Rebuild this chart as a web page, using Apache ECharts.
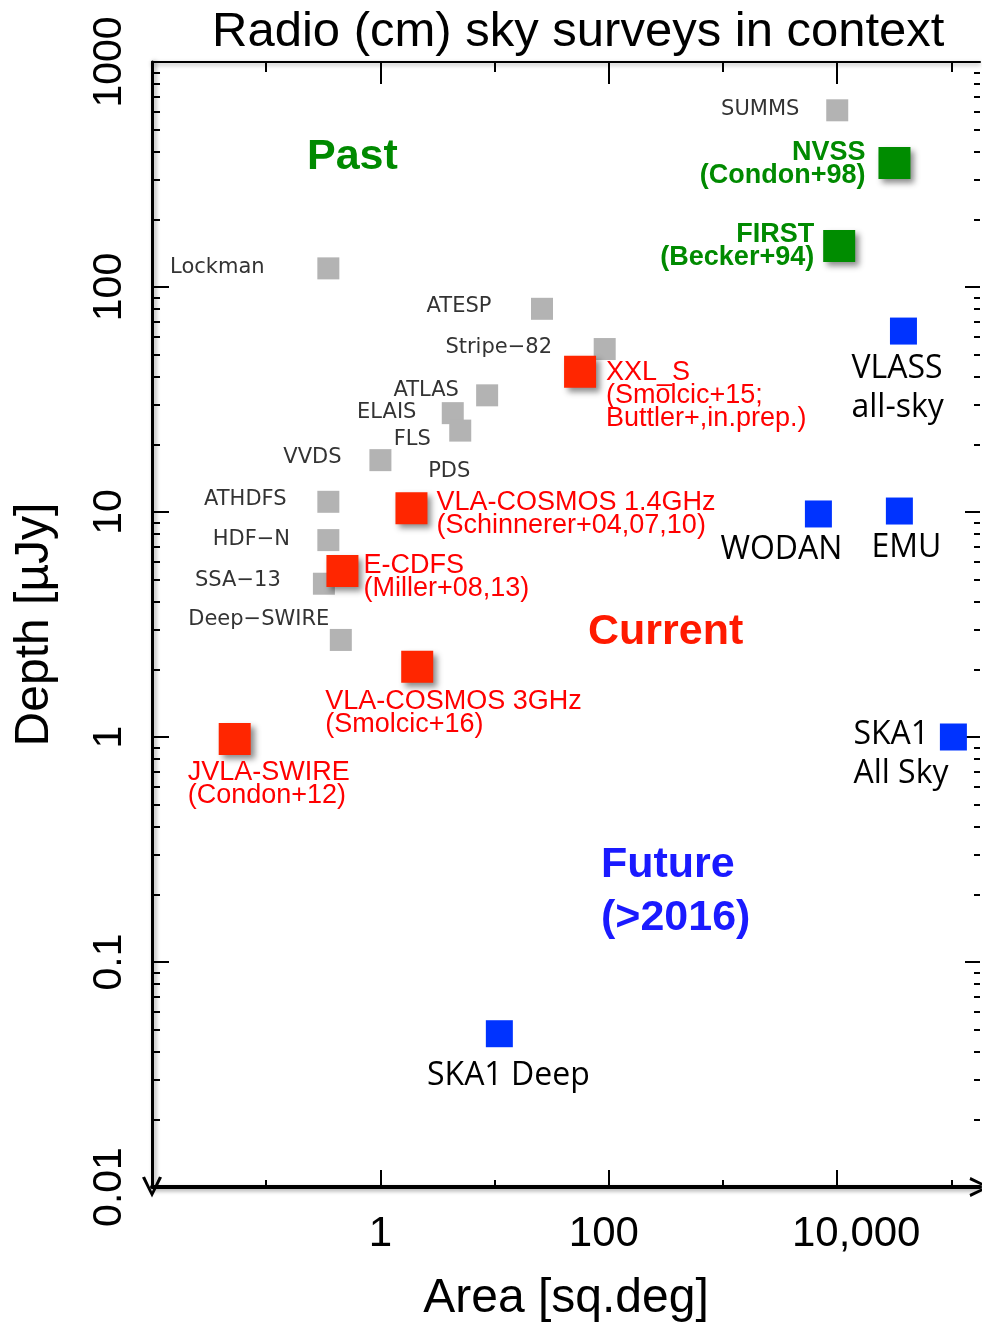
<!DOCTYPE html>
<html>
<head>
<meta charset="utf-8">
<script src="https://cdn.jsdelivr.net/npm/echarts@6/dist/echarts.min.js"></script>
<style>
  html, body { margin: 0; padding: 0; background: #fff; }
  #chart { width: 982px; height: 1322px; }
</style>
</head>
<body>
<div id="chart"></div>
<script>
// past surveys (grey squares)
const pastNames = ['SUMMS', 'Lockman', 'ATESP', 'Stripe\u221282', 'ATLAS', 'ELAIS', 'FLS', 'VVDS', 'PDS', 'ATHDFS', 'HDF\u2212N', 'SSA\u221213', 'Deep\u2212SWIRE']
const pastArea = [10000, 0.35, 26, 92, 8.6, 4.3, 5.0, 1.0, 1.9, 0.35, 0.35, 0.32, 0.45]
const pastDepth = [610, 121, 80, 53, 33, 27.5, 23, 17, 10.5, 11.1, 7.5, 4.8, 2.7]

// large past surveys (green)
const bigNames = ['NVSS\n(Condon+98)', 'FIRST\n(Becker+94)']
const bigArea = [31700, 10400]
const bigDepth = [356, 152]

// current surveys (red)
const curNames = ['XXL_S\n(Smolcic+15;\nButtler+,in.prep.)', 'VLA-COSMOS 1.4GHz\n(Schinnerer+04,07,10)', 'E-CDFS\n(Miller+08,13)', 'VLA-COSMOS 3GHz\n(Smolcic+16)', 'JVLA-SWIRE\n(Condon+12)']
const curArea = [56, 1.87, 0.465, 2.1, 0.053]
const curDepth = [42, 10.4, 5.47, 2.05, 0.98]

// future surveys (blue)
const futNames = ['VLASS\nall-sky', 'WODAN', 'EMU', 'SKA1\nAll Sky', 'SKA1 Deep']
const futArea = [38000, 6840, 35000, 104000, 11]
const futDepth = [63.7, 9.8, 10.1, 1.0, 0.048]

// axis ticks
const xTickValues = [1, 100, 10000]
const xTickLabels = ['1', '100', '10,000']
const xDecades = [0.01, 0.1, 1, 10, 100, 1000, 10000, 100000]
const yTickValues = [0.01, 0.1, 1, 10, 100, 1000]
const yTickLabels = ['0.01', '0.1', '1', '10', '100', '1000']
const yMinor = []
yTickValues.slice(0, -1).forEach(d => { for (let m = 2; m <= 9; m++) yMinor.push(+(m * d).toPrecision(3)) })

// label placement (offset from square centre, align, vertical align)
const pastLabelPos = [[-77, -1], [-111, -1], [-83, -2], [-106, -1], [-61, -5], [-66, -1], [-48, 9], [-68, -3], [37, -36], [-83, -2], [-77, -1], [-86, -3], [-82, -20]]
const bigLabelPos = [[-29, -22], [-25, -23]]
const curLabelPos = [[26, -11], [25, -17], [21, -17], [-92, 23], [-47, 22]]
const futLabelPos = [[-52, 18, 'left', 'top'], [-37, 36, 'center', 'middle'], [7, 37, 'center', 'middle'], [-100, -22, 'left', 'top'], [9, 42, 'center', 'middle']]

const XMIN = 0.01, XMAX = 177828, YMIN = 0.01, YMAX = 1000
const FONT = '"Liberation Sans", Arial, sans-serif'
const arrow = 'path://M0,20 L10,0 L20,20 L17,21 L10,6 L3,21 Z'

function pts(names, xs, ys, pos) {
  return names.map((n, i) => ({
    name: n,
    value: [xs[i], ys[i]],
    label: Object.assign({ offset: [pos[i][0], pos[i][1]] }, pos[i][2] ? { align: pos[i][2], verticalAlign: pos[i][3] } : {})
  }))
}

const shadow = { shadowBlur: 6, shadowOffsetX: 4, shadowOffsetY: 4, shadowColor: 'rgba(0,0,0,0.45)' }

function xAx(pos, show, ticks, len, width) {
  return {
    type: 'log', position: pos, min: XMIN, max: XMAX, gridIndex: 0,
    axisLine: { show: show, onZero: false, symbol: pos === 'bottom' ? ['none', arrow] : 'none', symbolSize: [20, 22],
      lineStyle: { color: '#000', width: width, shadowBlur: 4, shadowColor: 'rgba(0,0,0,0.35)', shadowOffsetY: 2 } },
    axisTick: { show: true, inside: true, length: len, customValues: ticks, lineStyle: { color: '#000', width: 2 } },
    axisLabel: { show: false },
    splitLine: { show: false }
  }
}
function yAx(pos, show, ticks, len, width) {
  return {
    type: 'log', position: pos, min: YMIN, max: YMAX, gridIndex: 0,
    axisLine: { show: show, onZero: false, symbol: pos === 'left' ? [arrow, 'none'] : 'none', symbolSize: [20, 22],
      lineStyle: { color: '#000', width: width, shadowBlur: 4, shadowColor: 'rgba(0,0,0,0.35)', shadowOffsetX: 2 } },
    axisTick: { show: true, inside: true, length: len, customValues: ticks, lineStyle: { color: '#000', width: 2 } },
    axisLabel: { show: false },
    splitLine: { show: false }
  }
}

const xMain = xAx('bottom', true, xTickValues, 17, 4)
xMain.axisLabel = {
  show: true, customValues: xTickValues, margin: 26, fontSize: 42, color: '#000', fontFamily: FONT,
  formatter: v => {
    const i = xTickValues.findIndex(t => Math.abs(t - v) / t < 1e-6)
    return i < 0 ? '' : '{l' + i + '|' + xTickLabels[i] + '}'
  },
  rich: {
    l0: { fontSize: 42, fontFamily: FONT, color: '#000', padding: [0, 0, 0, 0] },
    l1: { fontSize: 42, fontFamily: FONT, color: '#000', padding: [0, 10, 0, 0] },
    l2: { fontSize: 42, fontFamily: FONT, color: '#000', padding: [0, 0, 0, 38] }
  }
}
Object.assign(xMain, { name: 'Area [sq.deg]', nameLocation: 'middle', nameGap: 88,
  nameTextStyle: { fontSize: 48, color: '#000', fontFamily: FONT } })

const yMain = yAx('left', true, yTickValues, 17, 3)
yMain.axisLabel = {
  show: true, customValues: yTickValues, margin: 22, rotate: 90, fontSize: 41, color: '#000', fontFamily: FONT,
  formatter: v => yTickLabels[yTickValues.findIndex(t => Math.abs(t - v) / t < 1e-6)] || ''
}
Object.assign(yMain, { name: 'Depth [\u00b5Jy]', nameLocation: 'middle', nameGap: 93, nameRotate: 90,
  nameTextStyle: { fontSize: 48, color: '#000', fontFamily: FONT } })

const chart = echarts.init(document.getElementById('chart'))
chart.setOption({
  animation: false,
  backgroundColor: '#fff',
  title: {
    text: 'Radio (cm) sky surveys in context', left: 207, top: 3,
    textStyle: { fontSize: 49, fontWeight: 'normal', color: '#000', fontFamily: FONT }
  },
  grid: { left: 152, right: 2, top: 62, bottom: 135, containLabel: false, outerBoundsMode: 'none' },
  xAxis: [
    xMain,
    xAx('bottom', false, xDecades, 7, 4),
    xAx('top', true, xTickValues, 22, 2),
    xAx('top', false, xDecades, 10, 2)
  ],
  yAxis: [
    yMain,
    yAx('left', false, yMinor, 8, 3),
    yAx('right', false, yTickValues, 15, 2),
    yAx('right', false, yMinor, 6, 2)
  ],
  graphic: [
    { type: 'text', left: 307, top: 136, style: { text: 'Past', fill: '#008a00', font: 'bold 43px ' + FONT } },
    { type: 'text', left: 588, top: 611, style: { text: 'Current', fill: '#ff1a00', font: 'bold 43px ' + FONT } },
    { type: 'text', left: 601, top: 839, style: { text: 'Future\n(>2016)', fill: '#1a1aff', font: 'bold 43px ' + FONT, lineHeight: 53 } }
  ],
  series: [
    {
      type: 'scatter', xAxisIndex: 0, yAxisIndex: 0, symbol: 'rect', symbolSize: 22,
      itemStyle: { color: '#b3b3b3', opacity: 1 },
      label: { show: true, position: 'inside', formatter: '{b}', color: '#333', fontSize: 21, fontFamily: '"DejaVu Sans", sans-serif' },
      data: pts(pastNames, pastArea, pastDepth, pastLabelPos)
    },
    {
      type: 'scatter', xAxisIndex: 0, yAxisIndex: 0, symbol: 'rect', symbolSize: 32,
      itemStyle: Object.assign({ color: '#008c00', opacity: 1 }, shadow),
      label: { show: true, position: 'inside', formatter: '{b}', align: 'right', verticalAlign: 'top', color: '#008a00', fontWeight: 'bold', fontSize: 27, lineHeight: 23, fontFamily: FONT },
      data: pts(bigNames, bigArea, bigDepth, bigLabelPos)
    },
    {
      type: 'scatter', xAxisIndex: 0, yAxisIndex: 0, symbol: 'rect', symbolSize: 32,
      itemStyle: Object.assign({ color: '#ff2600', opacity: 1 }, shadow),
      label: { show: true, position: 'inside', formatter: '{b}', align: 'left', verticalAlign: 'top', color: '#ff0000', fontSize: 27, lineHeight: 23, fontFamily: FONT },
      data: pts(curNames, curArea, curDepth, curLabelPos)
    },
    {
      type: 'scatter', xAxisIndex: 0, yAxisIndex: 0, symbol: 'rect', symbolSize: 27,
      itemStyle: { color: '#0033ff', opacity: 1 },
      label: { show: true, position: 'inside', formatter: '{b}', color: '#000', fontSize: 32, lineHeight: 39, fontFamily: '"Open Sans", sans-serif' },
      data: pts(futNames, futArea, futDepth, futLabelPos)
    }
  ]
})
</script>
</body>
</html>
